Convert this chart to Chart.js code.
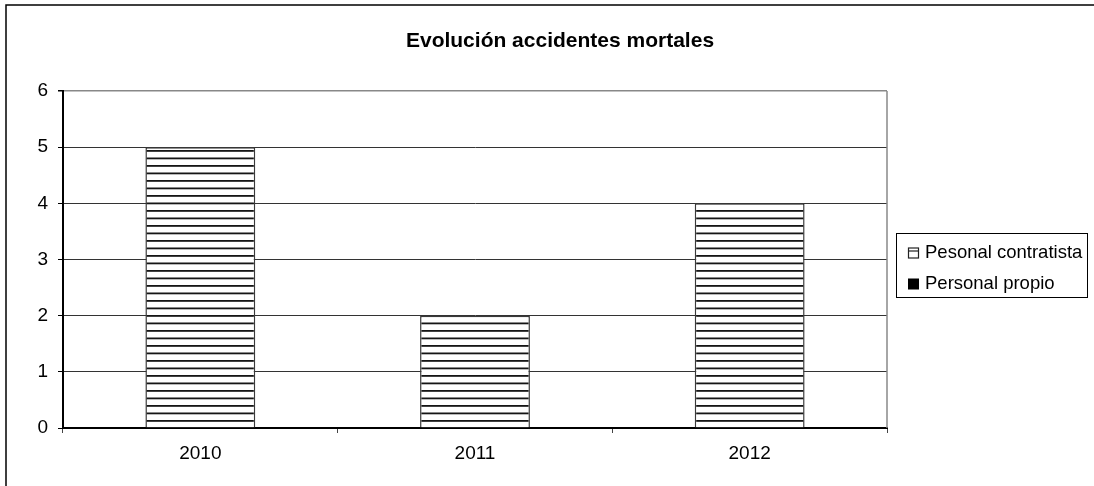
<!DOCTYPE html>
<html lang="es">
  <head>
    <meta charset="UTF-8" />
    <title>Evolución accidentes mortales</title>
    <style>
      * { margin: 0; padding: 0; }
      body { background: #fff; width: 1094px; height: 486px; overflow: hidden; }
      .chartBox { width: 1094px; height: 486px; }
    </style>
  </head>
  <body>
    <div class="chartBox">
      <canvas id="myChart" width="1094" height="486"></canvas>
    </div>

    <script src="https://cdn.jsdelivr.net/npm/chart.js"></script>

    <script>
      // data block
      const years = ["2010", "2011", "2012"];
      const propio = [0, 0, 0];
      const contratista = [5, 2, 4];
      const yTicks = [0, 1, 2, 3, 4, 5, 6];
      const titleText = "Evolución accidentes mortales";

      const FONT = "Arial, 'Liberation Sans', sans-serif";

      // horizontal stripes like the old excel fill
      const stripeCanvas = document.createElement("canvas");
      stripeCanvas.width = 4;
      stripeCanvas.height = 15;
      const sctx = stripeCanvas.getContext("2d");
      sctx.fillStyle = "#fff";
      sctx.fillRect(0, 0, 4, 15);
      sctx.fillStyle = "#151515";
      sctx.fillRect(0, 0, 4, 1.8);
      sctx.fillRect(0, 7.5, 4, 1.8);
      const stripes = sctx.createPattern(stripeCanvas, "repeat");

      const data = {
        labels: years,
        datasets: [
          {
            label: "Personal propio",
            data: propio,
            backgroundColor: "#000",
            borderColor: "#000",
            borderWidth: 0
          },
          {
            label: "Pesonal contratista",
            data: contratista,
            backgroundColor: stripes,
            borderColor: "#3a3a3a",
            borderWidth: 1.5
          }
        ]
      };

      // frame, title, legend and plot border drawn around the chart
      const excelFrame = {
        id: "excelFrame",
        beforeDraw: (chart) => {
          const { ctx } = chart;
          ctx.save();
          ctx.fillStyle = "#fff";
          ctx.fillRect(0, 0, chart.width, chart.height);
          ctx.restore();
        },
        afterDraw: (chart) => {
          const { ctx, chartArea: { right, top, bottom } } = chart;
          ctx.save();

          // outer frame (left + top only visible)
          ctx.strokeStyle = "#000";
          ctx.lineWidth = 1.5;
          ctx.beginPath();
          ctx.moveTo(6, chart.height);
          ctx.lineTo(6, 5);
          ctx.lineTo(chart.width, 5);
          ctx.stroke();

          // right side of the plot area
          ctx.strokeStyle = "#888";
          ctx.lineWidth = 1.5;
          ctx.beginPath();
          ctx.moveTo(right, top);
          ctx.lineTo(right, bottom);
          ctx.stroke();

          // title
          ctx.fillStyle = "#000";
          ctx.font = "bold 21px " + FONT;
          ctx.textAlign = "center";
          ctx.textBaseline = "alphabetic";
          ctx.fillText(titleText, 560, 47);

          // legend
          ctx.strokeStyle = "#000";
          ctx.lineWidth = 1;
          ctx.strokeRect(896.5, 233.5, 191, 64);

          const items = [data.datasets[1], data.datasets[0]];
          ctx.font = "18.5px " + FONT;
          ctx.textAlign = "left";
          items.forEach((ds, i) => {
            const y = 247.5 + i * 31;
            if (i === 0) {
              ctx.fillStyle = "#fff";
              ctx.fillRect(908, y, 11, 11);
              ctx.strokeStyle = "#222";
              ctx.lineWidth = 1.2;
              ctx.strokeRect(908.5, y + 0.5, 10, 10);
              ctx.beginPath();
              ctx.moveTo(908, y + 3.5);
              ctx.lineTo(919, y + 3.5);
              ctx.stroke();
            } else {
              ctx.fillStyle = "#000";
              ctx.fillRect(908, y, 11, 11);
            }
            ctx.fillStyle = "#000";
            ctx.fillText(ds.label, 925, y + 10.5);
          });

          ctx.restore();
        }
      };

      // config block
      const config = {
        type: "bar",
        data,
        options: {
          responsive: false,
          animation: false,
          devicePixelRatio: 1,
          layout: {
            padding: { left: 6, right: 207, top: 91, bottom: 0 }
          },
          plugins: {
            legend: { display: false },
            title: { display: false },
            tooltip: { enabled: false }
          },
          datasets: {
            bar: { categoryPercentage: 1, barPercentage: 0.4 }
          },
          scales: {
            x: {
              stacked: true,
              afterFit: (s) => { s.height = 58; },
              grid: {
                offset: true,
                drawOnChartArea: false,
                drawTicks: true,
                tickLength: 5,
                tickColor: "#444"
              },
              border: { color: "#000", width: 2 },
              ticks: {
                color: "#000",
                padding: 9,
                font: { family: FONT, size: 19 }
              }
            },
            y: {
              stacked: true,
              min: 0,
              max: 6,
              afterFit: (s) => { s.width = 57; },
              afterBuildTicks: (s) => { s.ticks = yTicks.map((v) => ({ value: v })); },
              grid: {
                color: (c) => (c.tick && c.tick.value === 6 ? "#888" : "#333"),
                lineWidth: (c) => (c.tick && c.tick.value === 6 ? 1.5 : 1),
                tickLength: 5,
                tickColor: "#000"
              },
              border: { color: "#000", width: 2 },
              ticks: {
                color: "#000",
                padding: 10,
                font: { family: FONT, size: 19 }
              }
            }
          }
        },
        plugins: [excelFrame]
      };

      // init render block
      const myChart = new Chart(document.getElementById("myChart"), config);
    </script>
  </body>
</html>
